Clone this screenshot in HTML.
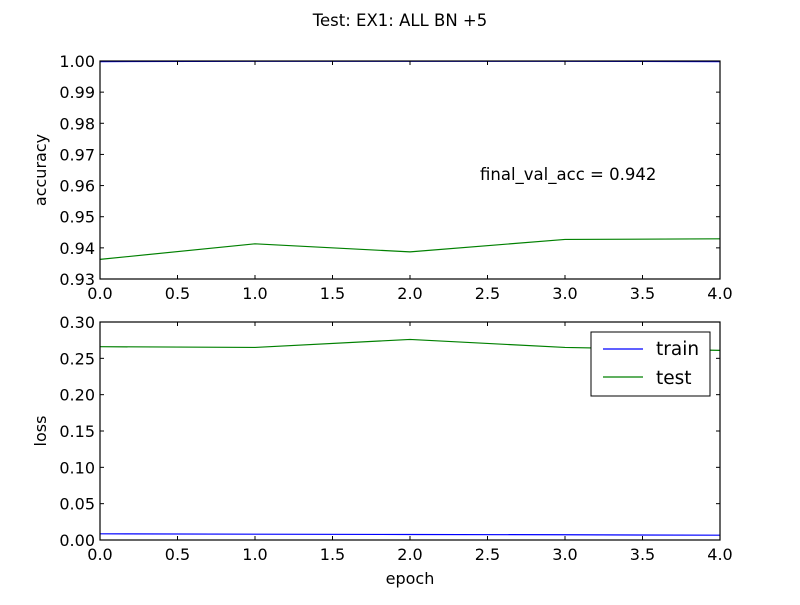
<!DOCTYPE html>
<html><head><meta charset="utf-8"><style>
body{margin:0;background:#fff}
svg text{font-family:"DejaVu Sans","Liberation Sans",sans-serif;fill:#000}
</style></head><body>
<svg id="c" width="800" height="600" viewBox="0 0 800 600"></svg>
<script>
const epochs=[0,1,2,3,4];
const trainAcc=[0.9998,0.9999,0.9999,0.9999,0.9998];
const testAcc=[0.9363,0.9413,0.9387,0.9427,0.9429];
const trainLoss=[0.0085,0.0080,0.0076,0.0072,0.0066];
const testLoss=[0.266,0.265,0.276,0.265,0.261];
const xTicks=["0.0","0.5","1.0","1.5","2.0","2.5","3.0","3.5","4.0"];
const accTicks=["0.93","0.94","0.95","0.96","0.97","0.98","0.99","1.00"];
const lossTicks=["0.00","0.05","0.10","0.15","0.20","0.25","0.30"];
const NS="http://www.w3.org/2000/svg";
const svg=document.getElementById('c');
function mk(t,a,p){const e=document.createElementNS(NS,t);for(const k in a)e.setAttribute(k,a[k]);(p||svg).appendChild(e);return e;}
const L=100,R=720;
const xs=v=>L+(v-0)/4*(R-L);
function txt(x,y,s,size,anchor,name){const t=mk('text',{x:x,y:y,'font-size':size,'text-anchor':anchor});t.textContent=s;return t;}
function panel(top,bot,ymin,ymax,yt,series,name,ylabel){
  const ys=v=>bot-(v-ymin)/(ymax-ymin)*(bot-top);
  const g=mk('g',{});
  series.forEach(s=>{
    const p=mk('polyline',{points:epochs.map((e,i)=>xs(e)+','+ys(s.d[i])).join(' '),fill:'none',stroke:s.c,'stroke-width':1.2},g);
    
  });
  xTicks.forEach(t=>{const x=xs(parseFloat(t));
    mk('line',{x1:x,x2:x,y1:bot,y2:bot-4,stroke:'#000'},g);mk('line',{x1:x,x2:x,y1:top,y2:top+4,stroke:'#000'},g);
    txt(x,bot+20,t,16,'middle','x-tick-label');});
  yt.forEach(t=>{const y=ys(parseFloat(t));
    mk('line',{x1:L,x2:L+4,y1:y,y2:y,stroke:'#000'},g);mk('line',{x1:R,x2:R-4,y1:y,y2:y,stroke:'#000'},g);
    txt(L-5,y+6,t,16,'end','y-tick-label');});
  const f=mk('rect',{x:L,y:top,width:R-L,height:bot-top,fill:'none',stroke:'#000','stroke-width':1.2},g);
  
  const yl=txt(0,0,ylabel,16,'middle','y-axis-title');yl.setAttribute('transform','translate(46,'+((top+bot)/2)+') rotate(-90)');
  return ys;
}
txt(400,26,'Test: EX1: ALL BN +5',16.5,'middle','chart-title');
panel(61,279,0.93,1.00,accTicks,[{d:trainAcc,c:'#0000ff',n:'train-acc-line'},{d:testAcc,c:'#008000',n:'test-acc-line'}],'accuracy-panel','accuracy');
txt(480,180,'final_val_acc = 0.942',16.5,'start','annotation');
panel(322,540,0,0.30,lossTicks,[{d:trainLoss,c:'#0000ff',n:'train-loss-line'},{d:testLoss,c:'#008000',n:'test-loss-line'}],'loss-panel','loss');
txt(410,584,'epoch',16,'middle','x-axis-title');
const lg=mk('g',{});
mk('rect',{x:591,y:332,width:119,height:64,fill:'#fff',stroke:'#000'},lg);
mk('line',{x1:603,x2:643,y1:349,y2:349,stroke:'#0000ff','stroke-width':1.2},lg);
mk('line',{x1:603,x2:643,y1:377,y2:377,stroke:'#008000','stroke-width':1.2},lg);
const t1=mk('text',{x:656,y:355,'font-size':18.5},lg);t1.textContent='train';
const t2=mk('text',{x:656,y:384,'font-size':18.5},lg);t2.textContent='test';
</script>
</body></html>
